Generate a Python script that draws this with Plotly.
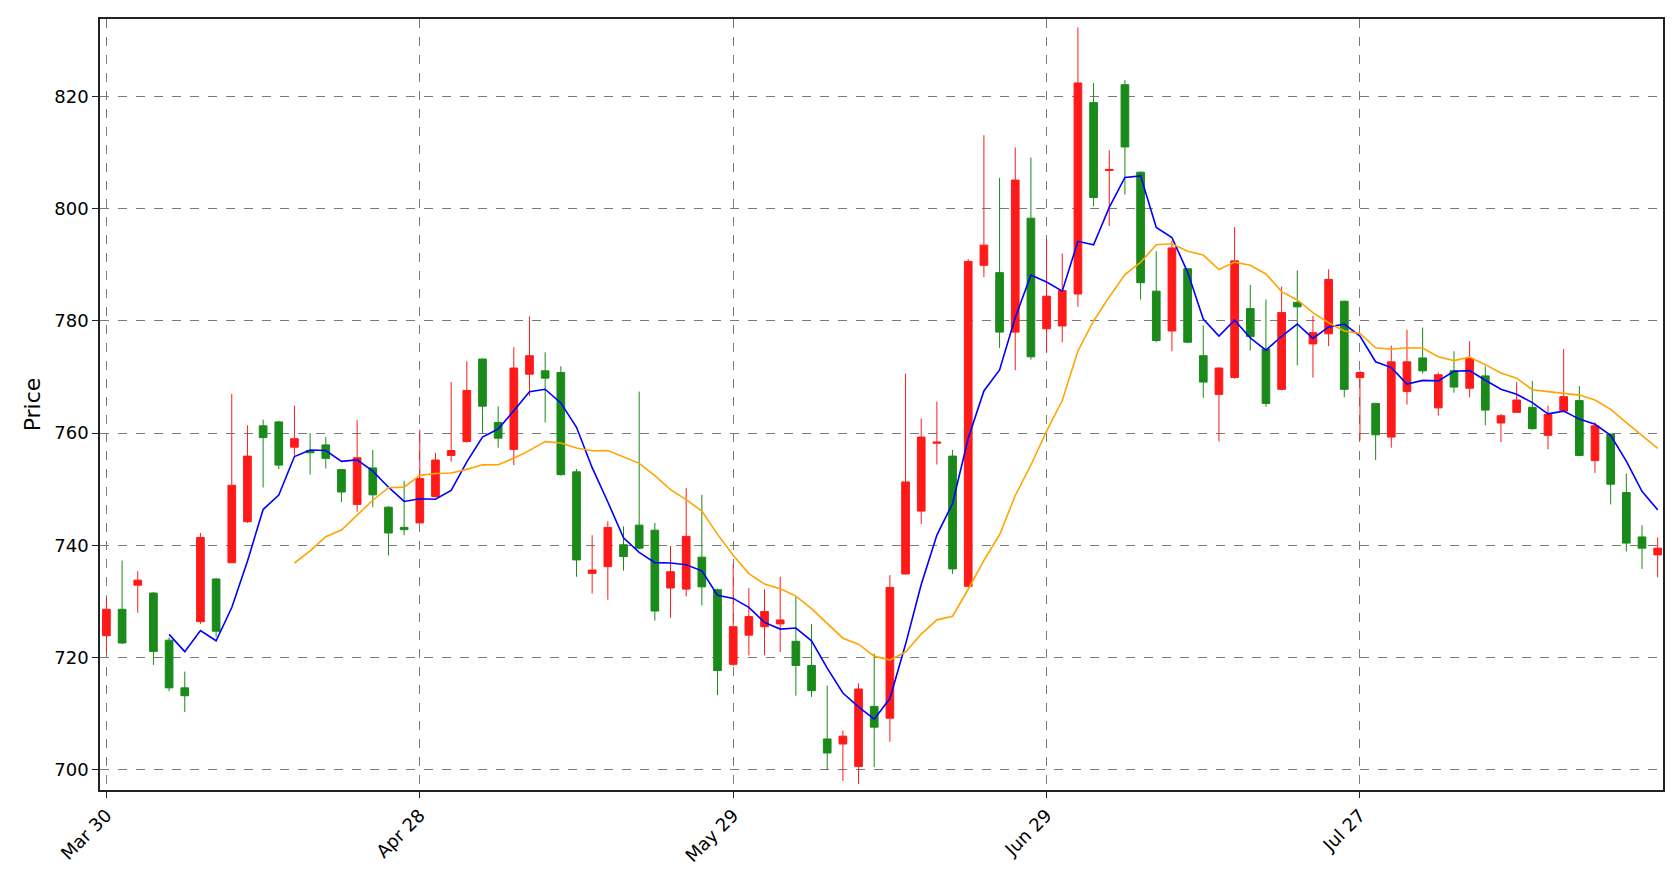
import numpy as np
import plotly.graph_objects as go

# daily OHLC (100 trading days)
opens = [723.9, 728.6, 732.9, 731.5, 723.1, 714.6, 726.4, 734.0, 736.9, 744.2,
         761.3, 762.0, 757.5, 756.9, 757.9, 753.5, 747.3, 753.8, 746.8, 743.2,
         744.0, 748.7, 756.0, 758.5, 773.2, 761.9, 757.1, 770.5, 771.1, 770.8,
         753.1, 735.0, 736.2, 740.1, 743.6, 742.7, 732.4, 732.2, 737.9, 732.1,
         718.8, 724.0, 725.5, 726.0, 722.9, 718.6, 705.5, 704.6, 700.6, 711.3,
         709.2, 734.9, 746.1, 758.2, 755.9, 732.7, 789.9, 788.6, 778.0, 798.3,
         778.6, 779.1, 784.8, 818.9, 806.8, 822.1, 806.5, 785.3, 778.2, 789.3,
         773.8, 766.9, 769.9, 782.2, 775.0, 767.8, 783.3, 775.9, 777.7, 783.5,
         769.9, 765.3, 759.3, 767.4, 773.4, 764.5, 771.1, 768.0, 770.2, 761.8,
         763.7, 764.6, 759.6, 763.9, 765.8, 755.1, 759.8, 749.4, 741.5, 738.3]
highs = [730.7, 737.3, 735.4, 731.7, 723.6, 717.5, 742.2, 734.2, 767.0, 761.4,
         762.4, 762.2, 764.9, 760.0, 759.3, 753.6, 762.3, 757.0, 747.0, 751.5,
         760.6, 756.5, 769.1, 772.8, 773.3, 764.8, 775.3, 780.8, 774.4, 771.9,
         753.6, 741.8, 744.3, 743.4, 767.4, 744.0, 739.9, 750.2, 749.0, 732.3,
         736.6, 732.4, 732.2, 734.4, 730.8, 726.0, 715.0, 707.0, 715.4, 720.7,
         734.7, 770.6, 762.6, 765.6, 757.0, 791.0, 813.1, 805.5, 810.9, 809.1,
         794.6, 792.0, 832.3, 822.4, 810.4, 822.9, 806.6, 792.4, 794.3, 789.4,
         779.2, 771.7, 796.7, 786.4, 783.8, 786.1, 789.0, 780.9, 789.2, 783.6,
         771.1, 765.4, 775.6, 778.4, 778.8, 770.8, 774.6, 776.4, 771.9, 763.4,
         769.1, 769.3, 764.9, 775.0, 768.4, 761.9, 759.9, 752.8, 743.6, 741.4]
lows = [720.9, 722.4, 728.0, 718.7, 714.0, 710.3, 726.0, 723.7, 736.9, 744.0,
        750.3, 753.6, 756.0, 752.6, 753.7, 747.7, 746.0, 746.8, 738.2, 741.8,
        744.0, 748.5, 754.9, 758.3, 760.0, 757.4, 754.3, 766.6, 761.9, 752.4,
        734.4, 731.4, 730.3, 735.5, 739.3, 726.6, 727.1, 730.9, 729.3, 713.3,
        718.5, 720.4, 720.4, 721.0, 713.2, 713.0, 700.0, 698.0, 697.5, 700.5,
        705.0, 734.8, 743.8, 754.4, 734.9, 732.5, 787.8, 775.2, 771.2, 773.1,
        774.3, 776.2, 782.5, 800.4, 796.9, 802.5, 783.8, 776.2, 774.6, 776.0,
        766.3, 758.5, 769.7, 774.7, 764.7, 767.6, 772.1, 769.9, 775.5, 766.4,
        758.7, 755.2, 757.4, 765.1, 770.6, 763.1, 767.2, 766.4, 761.4, 758.4,
        763.6, 760.6, 757.1, 763.8, 755.9, 752.9, 747.3, 738.9, 735.8, 734.3]
closes = [728.6, 722.6, 733.8, 721.1, 714.6, 713.2, 741.4, 724.7, 750.7, 755.9,
          759.2, 754.3, 759.0, 756.5, 755.5, 749.5, 755.6, 749.0, 742.2, 742.8,
          751.9, 755.2, 756.9, 767.6, 764.8, 759.1, 771.6, 773.8, 769.8, 752.6,
          737.4, 735.6, 743.2, 738.0, 739.5, 728.3, 735.3, 741.6, 732.6, 717.7,
          725.5, 727.3, 728.2, 726.7, 718.6, 714.1, 703.0, 706.0, 714.4, 707.6,
          732.5, 751.3, 759.3, 758.4, 735.8, 790.6, 793.5, 778.0, 805.1, 773.6,
          784.4, 785.4, 822.4, 802.0, 807.0, 811.0, 786.8, 776.5, 793.0, 776.2,
          769.1, 771.6, 790.7, 777.2, 765.3, 781.5, 782.5, 777.9, 787.4, 767.8,
          770.8, 759.7, 772.7, 772.7, 771.1, 770.4, 768.2, 773.3, 764.1, 763.1,
          765.9, 760.8, 763.3, 766.5, 756.0, 761.3, 750.9, 740.4, 739.5, 739.5]

tick_pos = [0, 20, 40, 60, 80]
tick_text = ["Mar 30", "Apr 28", "May 29", "Jun 29", "Jul 27"]

idx = np.arange(len(closes))
c = np.array(closes)


def moving_avg(vals, n):
    out = np.full(len(vals), np.nan)
    for i in range(n - 1, len(vals)):
        out[i] = vals[i - n + 1:i + 1].mean()
    return out


ma_fast = moving_avg(c, 5)
ma_slow = moving_avg(c, 13)

fig = go.Figure()
fig.add_trace(go.Candlestick(
    x=idx, open=opens, high=highs, low=lows, close=closes,
    increasing=dict(line=dict(color="#ff1a1a", width=1), fillcolor="#ff1a1a"),
    decreasing=dict(line=dict(color="#1a8a1a", width=1), fillcolor="#1a8a1a"),
    whiskerwidth=0, showlegend=False))
fig.add_trace(go.Scatter(x=idx, y=ma_fast, mode="lines",
                         line=dict(color="blue", width=1.6), showlegend=False))
fig.add_trace(go.Scatter(x=idx, y=ma_slow, mode="lines",
                         line=dict(color="orange", width=1.6), showlegend=False))

axis_style = dict(showgrid=True, gridcolor="#7a7a7a", griddash="dash", gridwidth=1.2,
                  showline=True, linecolor="#222", linewidth=1.5, mirror=True,
                  ticks="outside", ticklen=6, tickcolor="#222", zeroline=False)

fig.update_layout(
    width=1675, height=889,
    plot_bgcolor="white", paper_bgcolor="white",
    font=dict(family="DejaVu Sans", size=18, color="black"),
    margin=dict(l=92, r=20, t=9, b=107),
    xaxis=dict(range=[-0.41, 99.34], tickvals=tick_pos, ticktext=tick_text,
               tickangle=-45, rangeslider=dict(visible=False), **axis_style),
    yaxis=dict(range=[696.4, 833.8], dtick=20, title=dict(text="Price", standoff=8),
               **axis_style),
)

fig.write_html("out.html")
